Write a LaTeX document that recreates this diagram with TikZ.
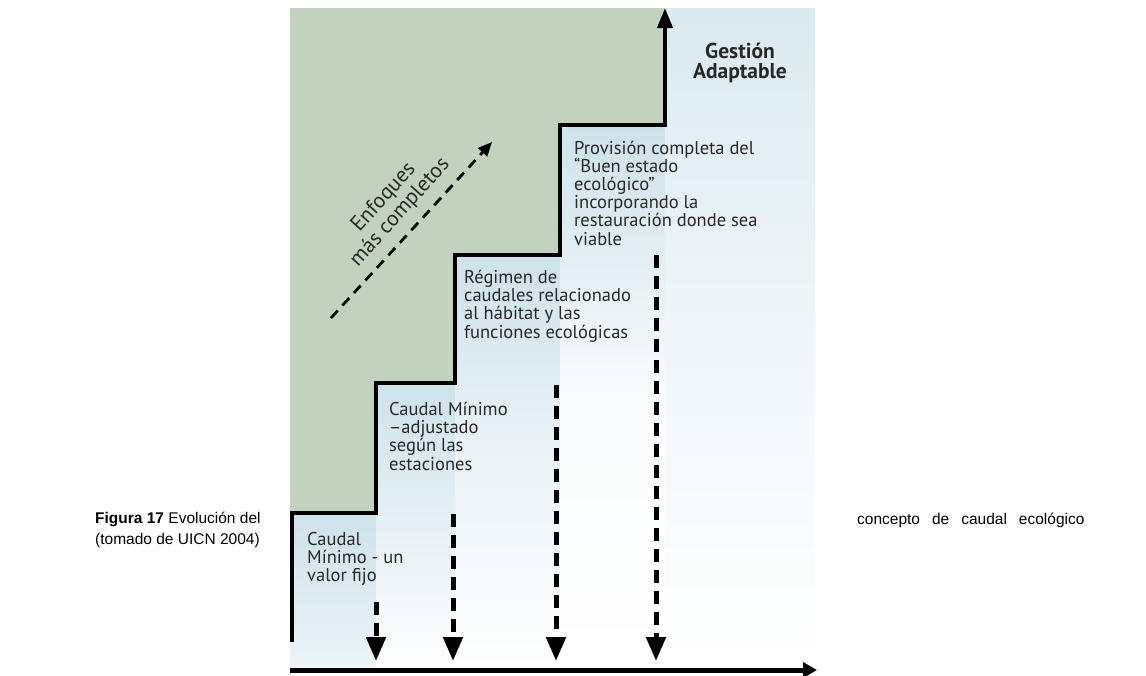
\documentclass[tikz,border=0pt]{standalone}
\usepackage{fontspec}
\setmainfont{Liberation Sans}
\newfontfamily\dfont{PT Sans}
\usetikzlibrary{arrows.meta}
\definecolor{greenbg}{RGB}{194,210,191}
\definecolor{bluebg}{RGB}{206,226,234}
\definecolor{bluelt}{RGB}{218,234,240}
\definecolor{bluebot}{RGB}{236,244,247}
\definecolor{txt}{RGB}{40,40,40}
\begin{document}
\begin{tikzpicture}[x=1pt,y=-1pt,
  stair/.style={line width=4pt, line join=miter, line cap=butt},
  dasharrow/.style={line width=5pt, dash pattern=on 13pt off 8pt, -{Triangle[width=19pt,length=24pt]}},
  lbl/.style={anchor=north west, align=left, inner sep=0pt, font=\dfont\fontsize{18.5}{18.2}\selectfont, text=txt},
  caption/.style={anchor=west, inner sep=0pt, font=\fontsize{15.5}{21}\selectfont, align=left}]
\useasboundingbox (0,0) rectangle (1146,675);
\fill[white] (0,0) rectangle (1146,675);
% background columns
\shade[top color=bluebg, bottom color=bluebot] (290,513) rectangle (376,670);
\shade[top color=bluebg, bottom color=white] (376,383) rectangle (455,670);
\shade[top color=bluebg, bottom color=white, middle color=bluebot] (455,255) rectangle (560,670);
\shade[top color=bluebg, bottom color=white, middle color=white!70!bluebot] (560,125) rectangle (665,670);
\shade[top color=bluelt, bottom color=white, middle color=white!60!bluelt] (665,8) rectangle (815,670);
% green area
\fill[greenbg] (290,8) -- (665,8) -- (665,125) -- (560,125) -- (560,255) -- (455,255)
  -- (455,383) -- (376,383) -- (376,513) -- (290,513) -- cycle;
% staircase
\coordinate (s0) at (292,642);
\coordinate (s9) at (665,8);
\draw[stair, -{Triangle[width=15pt,length=20pt]}] (s0) -- (292,513) -- (376,513) -- (376,383) -- (455,383)
  -- (455,255) -- (560,255) -- (560,125) -- (665,125) -- (s9);
% axis
\coordinate (ax0) at (290,670);
\coordinate (ax1) at (817,670);
\draw[line width=5pt, -{Triangle[width=15pt,length=14pt]}] (ax0) -- (ax1);
% dashed arrows
\coordinate (d1a) at (376,602); \coordinate (d1b) at (376,661);
\coordinate (d2a) at (453,514); \coordinate (d2b) at (453,661);
\coordinate (d3a) at (556,385); \coordinate (d3b) at (556,661);
\coordinate (d4a) at (656,255); \coordinate (d4b) at (656,661);
\draw[dasharrow] (d1a) -- (d1b);
\draw[dasharrow] (d2a) -- (d2b);
\draw[dasharrow] (d3a) -- (d3b);
\draw[dasharrow] (d4a) -- (d4b);
% diagonal arrow
\coordinate (e0) at (331,318);
\coordinate (e1) at (492,142);
\draw[line width=2.8pt, dash pattern=on 10pt off 7pt, -{Triangle[width=12pt,length=14pt]}] (e0) -- (e1);
\node[rotate=48, align=center, inner sep=0pt, font=\dfont\fontsize{21.5}{22}\selectfont, text=txt] (enf) at (392,205) {Enfoques\\más completos};
% labels
\node[lbl] (t1) at (307,532) {Caudal\\Mínimo - un\\valor fijo};
\node[lbl] (t2) at (389,402) {Caudal Mínimo\\–adjustado\\según las\\estaciones};
\node[lbl] (t3) at (464,270) {Régimen de\\caudales relacionado\\al hábitat y las\\funciones ecológicas};
\node[lbl] (t4) at (574,140.5) {Provisión completa del\\“Buen estado\\ecológico”\\incorporando la\\restauración donde sea\\viable};
\node[align=center, inner sep=0pt, font=\dfont\bfseries\fontsize{21.5}{20.5}\selectfont, text=txt] (ga) at (740,63) {Gestión\\Adaptable};
% caption
\node[caption] (c1) at (95,530) {\textbf{Figura 17} Evolución del\\(tomado de UICN 2004)};
\node[caption, anchor=west] (c2) at (857,520) {concepto\hspace{12pt}de\hspace{12pt}caudal\hspace{12pt}ecológico};
\end{tikzpicture}
\end{document}
